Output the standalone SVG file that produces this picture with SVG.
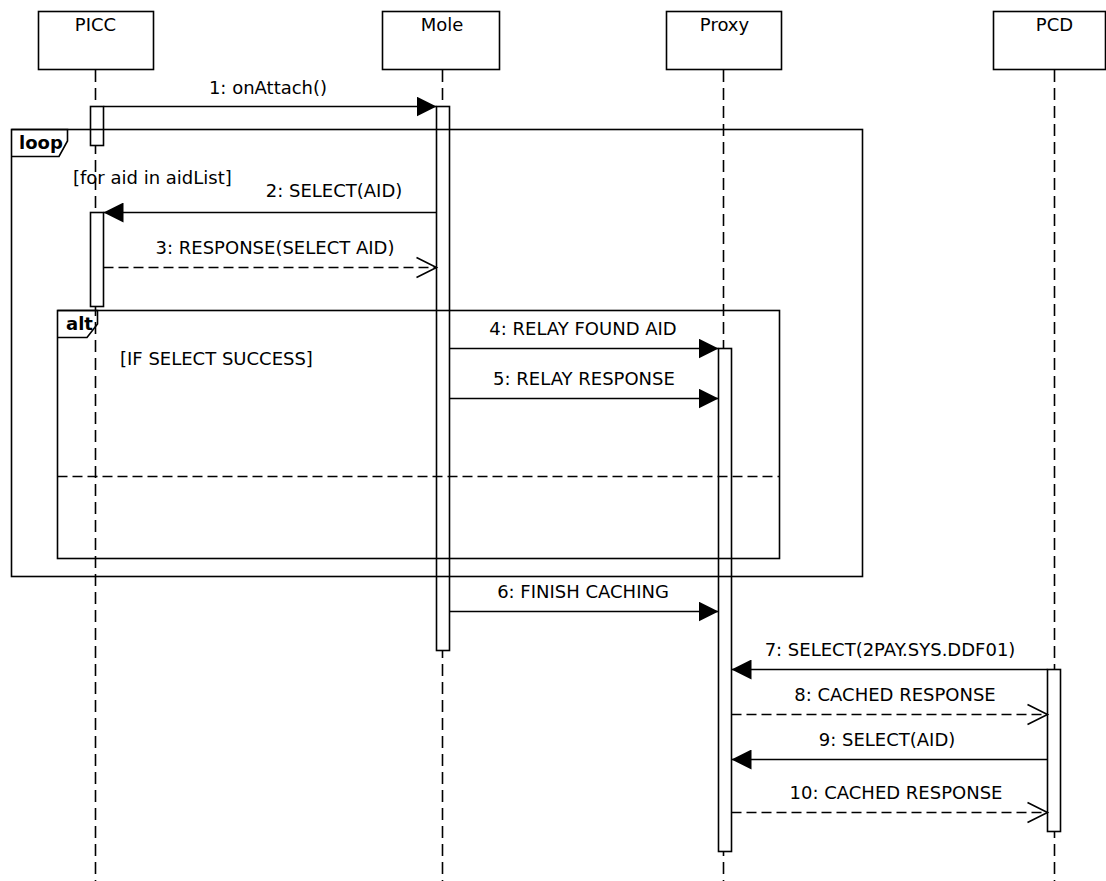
<svg xmlns="http://www.w3.org/2000/svg" width="1106" height="881" viewBox="0 0 1106 881">
<defs>
<style>
text{font-family:"DejaVu Sans","Liberation Sans",sans-serif;font-size:18px;fill:#000}
.c{text-anchor:middle}
.b{font-weight:bold}
.box{fill:#fff;stroke:#000;stroke-width:1.6}
.life{stroke:#000;stroke-width:1.6;stroke-dasharray:12 6;fill:none}
.act{fill:#fff;stroke:#000;stroke-width:1.6}
.frame{fill:none;stroke:#000;stroke-width:1.6}
.sep{stroke:#000;stroke-width:1.6;stroke-dasharray:10 5}
.msg{stroke:#000;stroke-width:1.6;fill:none}
.ret{stroke:#000;stroke-width:1.6;fill:none;stroke-dasharray:10 5}
</style>
<marker id="fill" markerWidth="20" markerHeight="20" refX="20" refY="10" orient="auto" markerUnits="userSpaceOnUse" viewBox="0 0 20 20">
<path d="M0,0 L20,10 L0,20 Z" fill="#000"/>
</marker>
<marker id="open" markerWidth="22" markerHeight="22" refX="20" refY="10" orient="auto" markerUnits="userSpaceOnUse" viewBox="0 0 22 22" overflow="visible">
<path d="M0,0 L20,10 L0,20" fill="none" stroke="#000" stroke-width="1.6"/>
</marker>
</defs>

<g id="PICC">
<rect class="box" x="38.5" y="11.5" width="115" height="58"/>
<text class="c" x="95.5" y="31">PICC</text>
<line class="life" x1="95.5" y1="70" x2="95.5" y2="881"/>
</g>
<g id="Mole">
<rect class="box" x="382.5" y="11.5" width="117" height="58"/>
<text class="c" x="442" y="31">Mole</text>
<line class="life" x1="442.5" y1="70" x2="442.5" y2="881"/>
</g>
<g id="Proxy">
<rect class="box" x="666.5" y="11.5" width="115" height="58"/>
<text class="c" x="724.5" y="31">Proxy</text>
<line class="life" x1="723.5" y1="70" x2="723.5" y2="881"/>
</g>
<g id="PCD">
<rect class="box" x="993.5" y="11.5" width="112" height="58"/>
<text class="c" x="1054.5" y="31">PCD</text>
<line class="life" x1="1054.5" y1="70" x2="1054.5" y2="881"/>
</g>

<g id="activations">
<rect class="act" x="90.5" y="106.5" width="13" height="39"/>
<rect class="act" x="90.5" y="212.5" width="13" height="94"/>
<rect class="act" x="436.5" y="106.5" width="13" height="544"/>
<rect class="act" x="718.5" y="348.5" width="13" height="503"/>
<rect class="act" x="1047.5" y="669.5" width="13" height="162"/>
</g>

<g id="loop">
<rect class="frame" x="11.5" y="129.5" width="851" height="447"/>
<path class="frame" d="M11.5,129.5 H67.5 V141 L59,156.5 H11.5"/>
<text class="b" x="19" y="149">loop</text>
<text x="73" y="184">[for aid in aidList]</text>
</g>

<g id="alt">
<rect class="frame" x="57.5" y="310.5" width="722" height="248"/>
<path class="frame" d="M57.5,310.5 H97.5 V324 L87,337.5 H57.5"/>
<text class="b" x="66" y="330">alt</text>
<text x="120" y="365">[IF SELECT SUCCESS]</text>
<line class="sep" x1="57.5" y1="476.5" x2="779.5" y2="476.5"/>
</g>

<g id="connectors">
<line class="msg" x1="103.5" y1="106.5" x2="436.5" y2="106.5" marker-end="url(#fill)"/>
<text class="c" x="268" y="94">1: onAttach()</text>
<line class="msg" x1="436.5" y1="212.5" x2="103.5" y2="212.5" marker-end="url(#fill)"/>
<text class="c" x="334" y="197">2: SELECT(AID)</text>
<line class="ret" x1="103.5" y1="267.5" x2="436.5" y2="267.5" marker-end="url(#open)"/>
<text class="c" x="275" y="254">3: RESPONSE(SELECT AID)</text>
<line class="msg" x1="449.5" y1="348.5" x2="718.5" y2="348.5" marker-end="url(#fill)"/>
<text class="c" x="583" y="335">4: RELAY FOUND AID</text>
<line class="msg" x1="449.5" y1="398.5" x2="718.5" y2="398.5" marker-end="url(#fill)"/>
<text class="c" x="584" y="385">5: RELAY RESPONSE</text>
<line class="msg" x1="449.5" y1="611.5" x2="718.5" y2="611.5" marker-end="url(#fill)"/>
<text class="c" x="583" y="598">6: FINISH CACHING</text>
<line class="msg" x1="1047.5" y1="669.5" x2="731.5" y2="669.5" marker-end="url(#fill)"/>
<text class="c" x="890" y="656">7: SELECT(2PAY.SYS.DDF01)</text>
<line class="ret" x1="731.5" y1="714.5" x2="1047.5" y2="714.5" marker-end="url(#open)"/>
<text class="c" x="895" y="701">8: CACHED RESPONSE</text>
<line class="msg" x1="1047.5" y1="759.5" x2="731.5" y2="759.5" marker-end="url(#fill)"/>
<text class="c" x="887" y="746">9: SELECT(AID)</text>
<line class="ret" x1="731.5" y1="812.5" x2="1047.5" y2="812.5" marker-end="url(#open)"/>
<text class="c" x="896" y="799">10: CACHED RESPONSE</text>
</g>
</svg>
